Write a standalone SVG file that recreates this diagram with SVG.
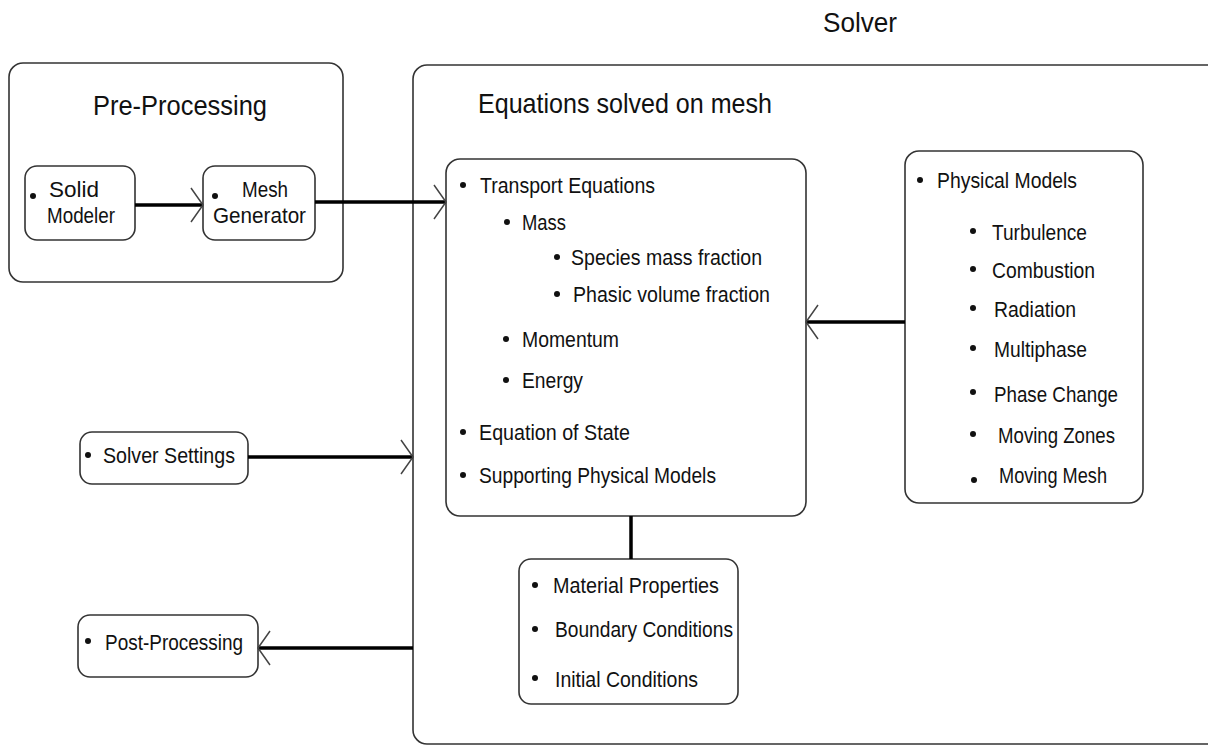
<svg xmlns="http://www.w3.org/2000/svg" width="1208" height="746" viewBox="0 0 1208 746">
<style>
.box{fill:#fff;stroke:#333;stroke-width:1.6}
.t{font-family:"Liberation Sans",Arial,sans-serif;font-size:22px;fill:#111}
.h{font-family:"Liberation Sans",Arial,sans-serif;font-size:28px;fill:#111}
.c{stroke:#000;stroke-width:3.5;fill:none}
.b{fill:#111}
</style>
<defs>
<marker id="ah" markerUnits="userSpaceOnUse" markerWidth="40" markerHeight="40" viewBox="-20 -20 40 40" refX="0" refY="0" orient="auto" overflow="visible">
<path d="M-12,-17 L0,0 L-12,17" fill="none" stroke="#444" stroke-width="1.5"/>
</marker>
</defs>
<rect width="1208" height="746" fill="#fff"/>
<text class="h" x="823" y="32" textLength="74" lengthAdjust="spacingAndGlyphs">Solver</text>

<g id="preprocessing">
<rect class="box" x="9" y="63" width="334" height="219" rx="14"/>
<text class="h" x="93" y="115" textLength="174" lengthAdjust="spacingAndGlyphs">Pre-Processing</text>
</g>
<g id="solid-modeler">
<rect class="box" x="25" y="166" width="110" height="74" rx="12"/>
<circle class="b" cx="33" cy="196" r="3"/>
<text class="t" x="49" y="197" textLength="50" lengthAdjust="spacingAndGlyphs">Solid</text>
<text class="t" x="47" y="223" textLength="68" lengthAdjust="spacingAndGlyphs">Modeler</text>
</g>
<g id="mesh-generator">
<rect class="box" x="203" y="166" width="112" height="74" rx="12"/>
<circle class="b" cx="215" cy="196" r="3"/>
<text class="t" x="242" y="197" textLength="46" lengthAdjust="spacingAndGlyphs">Mesh</text>
<text class="t" x="213" y="223" textLength="93" lengthAdjust="spacingAndGlyphs">Generator</text>
</g>

<g id="solver">
<rect class="box" x="413" y="65" width="830" height="679" rx="14"/>
<text class="h" x="478" y="113" textLength="294" lengthAdjust="spacingAndGlyphs">Equations solved on mesh</text>
</g>

<g id="transport">
<rect class="box" x="446" y="159" width="360" height="357" rx="14"/>
<circle class="b" cx="463" cy="185" r="3"/>
<text class="t" x="480" y="193" textLength="175" lengthAdjust="spacingAndGlyphs">Transport Equations</text>
<circle class="b" cx="507" cy="222" r="3"/>
<text class="t" x="522" y="230" textLength="44" lengthAdjust="spacingAndGlyphs">Mass</text>
<circle class="b" cx="557" cy="257" r="3"/>
<text class="t" x="571" y="265" textLength="191" lengthAdjust="spacingAndGlyphs">Species mass fraction</text>
<circle class="b" cx="557" cy="294" r="3"/>
<text class="t" x="573" y="302" textLength="197" lengthAdjust="spacingAndGlyphs">Phasic volume fraction</text>
<circle class="b" cx="506" cy="339" r="3"/>
<text class="t" x="522" y="347" textLength="97" lengthAdjust="spacingAndGlyphs">Momentum</text>
<circle class="b" cx="506" cy="380" r="3"/>
<text class="t" x="522" y="388" textLength="61" lengthAdjust="spacingAndGlyphs">Energy</text>
<circle class="b" cx="463" cy="432" r="3"/>
<text class="t" x="479" y="440" textLength="151" lengthAdjust="spacingAndGlyphs">Equation of State</text>
<circle class="b" cx="463" cy="475" r="3"/>
<text class="t" x="479" y="483" textLength="237" lengthAdjust="spacingAndGlyphs">Supporting Physical Models</text>
</g>

<g id="physical-models">
<rect class="box" x="905" y="151" width="238" height="352" rx="14"/>
<circle class="b" cx="920" cy="180" r="3"/>
<text class="t" x="937" y="188" textLength="140" lengthAdjust="spacingAndGlyphs">Physical Models</text>
<circle class="b" cx="973" cy="231" r="3"/>
<text class="t" x="992" y="240" textLength="95" lengthAdjust="spacingAndGlyphs">Turbulence</text>
<circle class="b" cx="973" cy="269" r="3"/>
<text class="t" x="992" y="278" textLength="103" lengthAdjust="spacingAndGlyphs">Combustion</text>
<circle class="b" cx="973" cy="308" r="3"/>
<text class="t" x="994" y="317" textLength="82" lengthAdjust="spacingAndGlyphs">Radiation</text>
<circle class="b" cx="973" cy="348" r="3"/>
<text class="t" x="994" y="357" textLength="93" lengthAdjust="spacingAndGlyphs">Multiphase</text>
<circle class="b" cx="973" cy="392" r="3"/>
<text class="t" x="994" y="402" textLength="124" lengthAdjust="spacingAndGlyphs">Phase Change</text>
<circle class="b" cx="973" cy="434" r="3"/>
<text class="t" x="998" y="443" textLength="117" lengthAdjust="spacingAndGlyphs">Moving Zones</text>
<circle class="b" cx="974" cy="480" r="3"/>
<text class="t" x="999" y="483" textLength="108" lengthAdjust="spacingAndGlyphs">Moving Mesh</text>
</g>

<g id="solver-settings">
<rect class="box" x="80" y="432" width="168" height="52" rx="12"/>
<circle class="b" cx="88" cy="455" r="3"/>
<text class="t" x="103" y="463" textLength="132" lengthAdjust="spacingAndGlyphs">Solver Settings</text>
</g>

<g id="post-processing">
<rect class="box" x="78" y="615" width="180" height="62" rx="12"/>
<circle class="b" cx="88" cy="641" r="3"/>
<text class="t" x="105" y="650" textLength="138" lengthAdjust="spacingAndGlyphs">Post-Processing</text>
</g>

<g id="material">
<rect class="box" x="519" y="559" width="219" height="145" rx="12"/>
<circle class="b" cx="535" cy="585" r="3"/>
<text class="t" x="553" y="593" textLength="166" lengthAdjust="spacingAndGlyphs">Material Properties</text>
<circle class="b" cx="535" cy="629" r="3"/>
<text class="t" x="555" y="637" textLength="178" lengthAdjust="spacingAndGlyphs">Boundary Conditions</text>
<circle class="b" cx="535" cy="678" r="3"/>
<text class="t" x="555" y="687" textLength="143" lengthAdjust="spacingAndGlyphs">Initial Conditions</text>
</g>

<g id="connectors">
<line class="c" x1="135" y1="205" x2="203" y2="205" marker-end="url(#ah)"/>
<line class="c" x1="315" y1="202" x2="446" y2="202" marker-end="url(#ah)"/>
<line class="c" x1="905" y1="322" x2="806" y2="322" marker-end="url(#ah)"/>
<line class="c" x1="248" y1="457" x2="413" y2="457" marker-end="url(#ah)"/>
<line class="c" x1="413" y1="648" x2="258" y2="648" marker-end="url(#ah)"/>
<line class="c" x1="631" y1="516" x2="631" y2="559"/>
</g>
</svg>
